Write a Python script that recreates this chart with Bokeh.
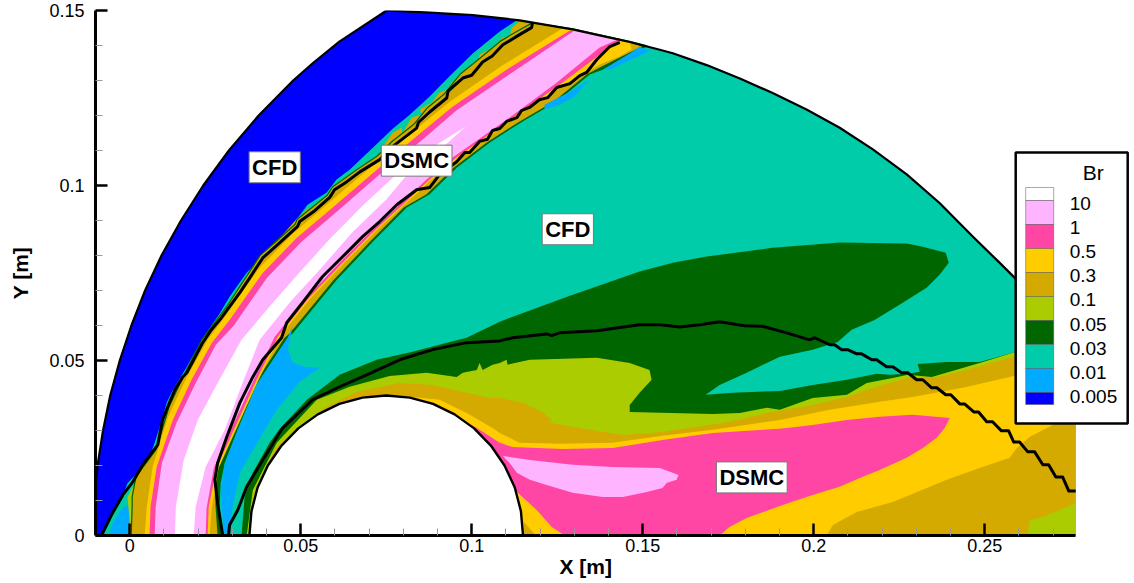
from bokeh.plotting import figure
from bokeh.models import FixedTicker, Range1d, Title
from bokeh.core.properties import value
from bokeh.embed import file_html
from bokeh.resources import INLINE

# ---- colours of contour levels ----
LEVEL_LABELS = ["10", "1", "0.5", "0.3", "0.1", "0.05", "0.03", "0.01", "0.005"]
WHITE, LPINK, PINK, YEL, GOLD, OLIVE, DKG, TEAL, LB, BLUE = (
    "#FFFFFF", "#FFB4FF", "#FF46A5", "#FFCC00", "#D4AA00",
    "#AACC00", "#006600", "#00CCAA", "#00AAFF", "#0000FF")

# ---- region outlines, (x, y) in mm ----
LEFT_ARC = [(-10,0),(-10.1,13.0),(-9.4,20),(-7.8,30),(-5.7,40),(-2.9,50),(0.5,60),(4.5,70),(9.3,80),(15.0,90),
            (21.5,100),(29.0,110),(37.7,120),(47.8,130),(53.6,135),(61.3,141.1)]
ARC_TOP = [(75.1,150),(87.7,149.4),(100.3,148.7),(114.0,147.2)]
ARC_MID = [(129.5,144.6),(137.4,142.9),(146.2,141.0)]
ARC_TAIL = [(155.0,138.8),(158.8,137.8),(168.7,134.4),(178.4,130.6),(188.0,126.4),(197.9,121.7),(207.6,116.5),(217.3,110.3),
            (227.2,103.2),(236.8,95.0),(246.5,85.4),(254.4,77.9),(258.8,73.6),(276.6,54.5)]
UP_TEAL = [(-7.9,0),(-5.3,5.9),(-2.0,11.6),(-0.6,15.0),(2.3,17.9),(5.8,22.5),(7.3,26.5),(9.4,33.0),(10.8,37.9),
           (12.3,41.0),(16.7,48.2),(21.1,55.9),(26.3,63.4),(29.2,68.2),(34.2,75.1),(38.9,79.7),(41.8,83.1),(47.7,88.8),
           (52.0,94.5),(57.6,98.0),(60.5,101.7),(64.3,104.5),(71.1,110.8),(76.9,116.2),(81.9,120.2),(87.7,125.4),(93.6,131.3),
           (100.3,137.7),(108.2,144.0),(113.2,147.2)]
FAN_BLUE = [(-5.8,0),(-5.3,3.0),(-3.5,5.9),(-2.0,7.9),(-0.6,8.7),(0,6.4),(0,0)]
FAN_OLIVE = [(0.3,0),(-0.3,7.3),(-0.6,11.0),(1.5,15.0),(3.5,18.7),(6.7,23.0),(7.9,24.5),(2.0,16.7),(0.9,11),(0.9,8.2),(0.6,0)]
JAG_GOLD = [(74.0,111.1),(76.9,115.1),(79.5,116.5),(79.8,115.1),(82.5,119.4),(85.4,120.3),(84.8,121.7),(88.3,123.7),
            (90.6,126.6),(92.7,127.4),(94.2,129.4),(97.4,131.1),(98.0,133.1),(101.8,135.4),(102.3,137.4),(106.1,139.4),
            (109.1,142.3),(111.1,142.6),(111.7,145.1),(114.0,146.9),(116.4,146.6),(117.8,146.0),(114.0,143.1),
            (109.1,140.2),(103.2,135.3),(97.4,130.7),(92.7,125.0),(87.7,121.0),(83.9,116.4),(77.5,111.6)]
GOLD_SPECKS = [(38.9,80.5),(43.9,85.0),(49.1,90.8),(52.6,93.7),(52.0,92.0),(49.1,88.5),(43.9,84.2),(40.0,80.5)]
GOLD_UP = [(0.6,0),(0.9,8.2),(0.9,11.0),(2.0,16.7),(7.9,24.5),(11.7,36.8),(16.1,45.9),(21.3,55.9),(28.7,65.6),
           (34.5,74.2),(38.3,79.9),(43.3,84.2),(48.5,88.8),(49.1,90.2),(57.9,97.1),(59.4,99.4),(66.7,104.5),(72.5,108.3),(76.9,112.5),
           (83.3,117.4),(87.1,122.0),(92.1,126.0),(96.8,131.7),(102.6,136.3),(108.5,141.1),(113.5,144.0),(117.8,146.3)]
GOLD_LOW = [(25.7,0),(25.1,8.2),(24.9,15.9),(26.3,20.7),(30.7,30.2),(36.3,43.1),(45.3,56.5),(46.8,57.8),(59.6,73.0),(70.2,83.9),
            (80.1,93.7),(86.8,97.5),(94.7,105.1),(104.4,112.3),(114.0,118.3),(124.0,124.0),(133.6,131.7),(137.4,133.7),
            (146.2,138.0),(149.7,139.7)]
GREEN_EDGE = [(26.9,0),(26.3,8.2),(26.6,15.0),(27.8,20.7),(31.6,30.2),(37.1,43.1),(46.2,56.5),(47.7,57.8),(60.5,73.0),(71.1,83.9),
              (81.0,93.7),(87.7,97.5),(95.6,105.1),(105.3,112.3),(114.9,118.3),(124.9,124.0),(134.5,131.7),(138.3,133.1),
              (147.1,137.4),(151.2,139.7)]
YEL_UP = [(4.4,0),(5.0,8.2),(6.7,19.6),(11.1,33.6),(16.7,45.3),(22.8,55.9),(28.1,62.8),(37.7,76.2),(47.7,86.2),(57.3,94.3),
          (71.1,105.7),(83.6,116.0),(93.3,123.7),(109.1,134.4),(126.6,144.9)]
YEL_LOW = [(23.4,0),(24.0,8.2),(26.0,19.3),(31.3,30.7),(37.7,44.5),(43.9,56.8),(52.6,67.4),(62.9,78.0),(72.5,87.4),(80.4,94.5),
           (88.3,101.7),(96.5,108.0),(112.0,118.8),(126.6,128.3),(137.4,134.6),(143.3,136.9),(146.8,138.9),(146.2,141.0)]
PINK_UP = [(5.8,0),(6.1,8.2),(7.9,19.6),(12.6,33.0),(18.1,44.5),(24.0,55.0),(29.2,61.6),(38.9,75.0),(48.8,85.0),(58.5,93.0),
           (72.2,104.4),(84.8,114.8),(94.4,122.5),(110.2,133.1),(128.7,144.3)]
PINK_LOW = [(22.8,0),(23.1,8.2),(25.4,19.3),(30.7,30.7),(37.1,44.5),(43.3,56.8),(52.0,67.4),(62.3,78.0),(71.9,87.4),(79.8,94.5),
            (87.7,101.7),(95.6,108.0),(111.1,118.8),(125.7,128.8),(138.3,138.0),(143.3,141.5)]
LP_UP = [(7.3,0),(7.6,8.2),(9.4,20.7),(13.7,32.2),(19.3,43.6),(25.2,54.5),(30.4,59.9),(40.1,73.6),(50.0,83.7),(59.6,91.7),
         (73.4,103.4),(86.0,113.4),(95.6,121.5),(111.4,132.0),(130.1,144.3)]
LP_LOW = [(22.2,0),(22.5,7.9),(24.6,19.3),(29.8,30.7),(36.3,44.5),(42.4,56.8),(51.2,67.4),(61.4,78.0),(71.1,87.4),(78.9,94.5),
          (86.8,101.7),(94.4,108.0),(110.2,118.8),(124.9,129.4),(137.4,139.4),(142.7,141.7)]
WHITE_BAND = [(13.2,0),(13.5,8.2),(15.8,21.6),(19.9,33.0),(25.7,43.6),(32.7,55.9),(40.9,65.4),(49.7,75.2),(58.5,84.7),(68.1,94.2),
              (78.1,103.3),(87.7,110.4),(98.2,116.8),(92.1,111.4),(81.3,103.3),(75.1,96.1),(65.2,86.7),(55.6,76.0),(46.8,66.6),
              (38.0,55.9),(33.0,43.6),(27.8,30.2),(22.2,19.6),(19.3,8.2),(18.7,0)]
LB_PATCH = [(27.5,0),(26.6,13.0),(27.8,20.7),(31.6,30.2),(37.1,43.1),(46.2,56.5),(47.7,60.0),(46.2,53.1),(47.7,49.3),(51.2,48.2),
            (55.6,47.9),(49.7,43.9),(43.0,35.9),(39.5,30.2),(32.2,17.9),(30.1,8.2),(29.2,0)]
LB_TIP = [(140.4,133.1),(152.1,138.4),(149.1,139.7),(146.2,137.7),(138.3,133.1)]
LB_SPOTS = [(121.3,121.7),(125.7,123.1),(130.1,125.4),(134.5,130.3),(128.7,126.8),(121.3,123.1)]
WAKE_GREEN = [(32.7,0),(33.6,11.0),(36.0,17.9),(40.9,26.5),(43.9,30.5),(51.8,38.8),(61.4,45.9),(72.2,50.2),(82.7,52.5),(93.6,55.3),
              (98.5,56.5),(104.4,59.3),(108.2,61.1),(128.7,68.5),(149.1,75.4),(158.8,77.9),(168.7,79.7),(188.0,82.2),(207.6,83.7),
              (227.2,83.4),(231.9,82.5),(238.6,80.8),(239.5,77.9),(236.8,74.5),(233.0,70.8),(225.1,65.9),(217.8,61.6),
              (211.1,58.8),(207.0,55.3),(199.7,53.1),(190.1,51.1),(180.4,46.5),(172.5,43.0),(168.4,40.2),(176.3,40.8),
              (190.1,41.3),(199.7,43.0),(209.7,44.5),(218.4,46.2),(222.2,45.9),(227.5,46.2),(231.0,46.8),(230.4,49.0),
              (238.9,49.6),(248.5,49.6),(258.2,52.2),(276.6,58.2),(276.6,0)]
WAKE_OLIVE = [(34.2,0),(36.0,13.0),(43.0,26.5),(46.8,30.5),(54.7,38.8),(64.3,42.5),(76.0,45.6),(86.8,46.5),(95.6,45.3),(97.4,46.5),
              (101.5,47.3),(102.3,49.3),(103.2,47.3),(106.1,48.8),(108.2,49.3),(110.2,50.2),(110.5,48.8),(117.0,50.2),(136.6,50.8),
              (146.2,49.3),(152.0,47.3),(152.6,44.5),(149.1,40.8),(146.2,37.3),(146.2,35.3),(170.5,34.7),(178.4,35.0),(186.3,36.5),
              (190.1,35.9),(199.7,39.3),(209.7,40.2),(215.5,43.6),(223.1,45.0),(227.5,45.9),(234.5,45.3),(248.5,49.3),(258.2,52.2),
              (276.6,57.6),(276.6,0)]
WAKE_GOLD = [(35.1,0),(36.6,13.0),(42.4,24.5),(48.8,30.5),(57.6,36.8),(66.4,41.0),(78.9,43.6),(88.6,43.0),(98.5,40.8),(105.3,39.3),
             (108.2,39.3),(114.9,37.9),(120.5,35.3),(123.4,33.0),(122.8,32.2),(131.6,30.7),(144.2,28.7),(152.9,29.3),(165.8,31.0),
             (175.4,32.5),(186.3,35.0),(199.7,37.3),(209.7,39.6),(217.3,42.2),(227.5,45.0),(236.0,45.3),(242.7,46.8),
             (258.2,51.0),(276.6,55.9),(276.6,0)]
WAKE_YEL = [(78.9,39.9),(90.6,38.8),(98.5,35.0),(106.1,30.7),(108.2,29.3),(114.0,26.5),(126.6,26.2),(141.2,26.5),(155.8,28.5),(170.5,30.2),
            (190.1,33.0),(204.7,35.9),(219.3,38.2),(228.9,39.6),(243.6,42.2),(257.3,45.3),(276.6,50.2),(276.6,0),(115.2,0)]
WAKE_PINK = [(92.7,35.6),(101.5,30.7),(108.2,26.5),(111.9,25.3),(126.6,24.7),(141.2,25.0),(155.8,27.3),(170.5,29.3),
             (190.1,30.5),(199.7,31.6),(209.7,33.0),(219.3,33.9),(228.9,34.5),(239.8,33.6),(238.3,30.7),(236.0,27.9),
             (231.9,25.0),(227.2,22.2),(219.3,18.7),(213.5,16.4),(207.6,13.9),(199.7,11.6),(190.1,8.4),(180.4,5.0),
             (175.4,2.4),(172.5,0),(127.2,0),(123.4,2.4),(119.0,7.3),(113.5,12.2)]
WAKE_LP = [(109.1,22.7),(117.0,21.6),(129.5,20.2),(141.2,19.6),(155.0,19.3),(160.5,17.3),(159.9,15.9),(157.0,15.0),
           (155.8,13.6),(151.2,12.4),(144.2,11.0),(138.3,11.0),(129.5,12.2),(121.9,14.4),(117.0,15.9),(113.2,17.9),(111.1,20.7)]
CORNER_GOLD = [(115.2,3.9),(118.4,0.4),(118.7,0),(114.9,0)]
FAR_GOLD = [(203.8,0),(205.6,3.0),(212.6,6.7),(223.1,9.6),(238.9,15.9),(248.5,19.3),(257.3,22.2),(259.4,25.0),(263.2,28.2),
            (269.9,31.6),(276.6,34.5),(276.6,0)]
FAR_OLIVE = [(262.3,0),(263.2,4.4),(267.0,5.3),(271.9,7.3),(276.6,9.3),(276.6,0)]
FAR_OLIVE2 = [(256.7,0),(259.7,1.0),(260.8,0)]
CYLINDER = [(115,0),(114.4,6.9),(112.6,13.7),(109.6,20),(105.6,25.7),(100.7,30.6),(95,34.6),(88.7,37.6),(81.9,39.4),(75,40),
            (68.1,39.4),(61.3,37.6),(55,34.6),(49.3,30.6),(44.4,25.7),(40.4,20),(37.4,13.7),(35.6,6.9),(35,0)]
DSMC_LEFT = [(-8.2,0),(-7.9,0.7),(-5.3,5.9),(-2.0,11.6),(0.9,15.3),(3.8,20.2),(8.2,25.9),(9.6,33.0),(11.1,36.7),(13.2,41.6),
             (15.5,45.3),(16.7,46.5),(21.3,55.0),(23.9,58.8),(26.9,62.3),(29.2,65.4),(32.2,69.4),(35.1,73.6),(38.9,79.3),(43.9,83.7),
             (49.1,88.3),(49.7,89.7),(54.1,92.8),(58.5,96.6),(59.9,98.8),(63.5,101.1),(67.3,103.9),(73.1,107.4),(77.5,111.6),
             (83.9,116.4),(84.4,118.0),(87.7,121.0),(92.7,125.0),(93.1,127.0),(97.4,130.7),(100.0,131.5),(103.2,135.3),
             (106.0,137.0),(109.1,140.2),(114.0,143.1),(117.5,145.1),(117.8,146.5)]
DSMC_RIGHT = [(27.2,0),(25.7,9.3),(24.9,15.9),(25.7,20.7),(28.4,28.2),(32.2,37.9),(36.0,45.3),(38.9,50.2),(44.4,56.5),(45.9,60.8),
              (51.2,67.4),(56.4,74.0),(62.3,79.7),(68.1,85.4),(73.1,89.7),(78.1,94.5),(83.9,98.8),(87.7,99.4),(90.6,103.1),(95.6,106.8),
              (98.0,109.4),(99.4,109.4),(102.3,112.6),(104.6,113.2),(106.1,115.7),(108.2,116.3),(110.2,118.3),(113.2,119.4),(114.6,121.4),
              (116.9,122.3),(119.8,124.5),(122.2,125.1),(124.9,128.0),(128.7,129.1),(131.6,131.4),(133.6,132.3),(136.6,136.0),
              (140.4,139.7),(143.3,140.9)]
DSMC_BODY = [(28.9,0),(29.2,3.0),(31.6,7.3),(34.2,13.9),(38.9,21.6),(44.7,30.7),(53.5,38.8),(61.4,42.5),(69.3,45.9),(78.9,50.2),
             (88.6,53.1),(98.5,55.1),(108.2,55.6),(112.0,56.5),(121.9,57.6),(123.4,57.1),(125.7,57.9),(136.6,58.5),(149.1,60.2),(155.0,60.2),
             (160.8,59.6),(166.7,60.2),(172.5,61.1),(179.8,59.9),(185.0,59.8),(192.1,57.9),(198.8,55.9),(200.3,56.5),(204.7,54.5),
             (206.1,54.5),(208.2,53.1),(209.9,53.1),(212.6,51.9),(214.0,51.9),(217.0,50.2),(218.4,50.2),(221.3,48.2),(223.1,48.2),
             (225.7,46.5),(227.5,46.5),(230.1,44.5),(231.9,44.5),(234.5,42.2),(236.0,42.2),(238.6,40.2),(240.1,40.2),(242.7,37.6),
             (244.1,37.6),(246.8,35.3),(248.2,35.3),(250.6,32.5),(252.3,32.5),(254.9,29.9),(257.0,29.9),(258.5,26.7),(260.2,26.7),
             (262.6,23.9),(264.6,23.9),(267.0,20.2),(268.7,20.2),(270.8,16.7),(272.8,16.7),(274.6,12.7),(276.6,12.7)]

ZONE_NAMES = ["CFD", "DSMC", "CFD", "DSMC"]
ZONE_X = [42.4, 83.9, 128.1, 181.9]
ZONE_Y = [105.2, 107.1, 87.5, 16.6]

X_TICKS = [0, 0.05, 0.1, 0.15, 0.2, 0.25]
Y_TICKS = [0, 0.05, 0.1, 0.15]
X_MINOR = [-0.01, 0.01, 0.02, 0.03, 0.04, 0.06, 0.07, 0.08, 0.09, 0.11, 0.12, 0.13, 0.14, 0.16, 0.17, 0.18, 0.19,
           0.21, 0.22, 0.23, 0.24, 0.26, 0.27]
Y_MINOR = [0.01, 0.02, 0.03, 0.04, 0.06, 0.07, 0.08, 0.09, 0.11, 0.12, 0.13, 0.14]

# ---- figure: frame runs past the axis end so the key can sit in it ----
W, H = 1132, 582
F_LEFT, F_TOP, F_BOTTOM = 95, 10, 535
SX = 3420.0
SY = (F_BOTTOM - F_TOP) / 0.15
x0 = -0.01
x1 = x0 + (W - F_LEFT) / SX
p = figure(width=W, height=H, output_backend="svg", toolbar_location=None,
           x_range=Range1d(x0, x1), y_range=Range1d(0, 0.15),
           min_border_left=F_LEFT, min_border_top=F_TOP, min_border_right=0,
           min_border_bottom=H - F_BOTTOM)
p.grid.visible = False
p.outline_line_color = None
p.background_fill_color = "white"

def xs(pts): return [a / 1000 for a, _ in pts]
def ys(pts): return [b / 1000 for _, b in pts]
def fill(pts, color, stroke=None, sw=0):
    p.patch(xs(pts), ys(pts), fill_color=color, line_color=stroke, line_width=sw)

END = [(276.6, 0)]
fill(LEFT_ARC + ARC_TOP + ARC_MID + ARC_TAIL + END, BLUE)
fill(UP_TEAL + ARC_MID + ARC_TAIL + END, TEAL)
fill(FAN_BLUE, LB)
fill(FAN_OLIVE, OLIVE)
fill(JAG_GOLD, GOLD)
fill(GOLD_SPECKS, GOLD)
fill(GOLD_UP + ARC_MID + GREEN_EDGE[::-1], DKG, DKG, 2.5)
fill(GOLD_UP + ARC_MID + GOLD_LOW[::-1], GOLD)
fill(YEL_UP + ARC_MID[:2] + YEL_LOW[::-1], YEL)
fill(PINK_UP + ARC_MID[1:2] + PINK_LOW[::-1], PINK)
fill(LP_UP + ARC_MID[1:2] + LP_LOW[::-1], LPINK)
fill(WHITE_BAND, WHITE)
fill(GREEN_EDGE + ARC_TAIL + END, TEAL)
fill(LB_PATCH, LB)
fill(LB_TIP, LB)
fill(LB_SPOTS, LB)
fill(WAKE_GREEN, DKG)
fill(WAKE_OLIVE, OLIVE)
fill(WAKE_GOLD, GOLD)
fill(WAKE_YEL, YEL)
fill(WAKE_PINK, PINK)
fill(WAKE_LP, LPINK)
fill(CORNER_GOLD, GOLD)
fill(FAR_GOLD, GOLD)
fill(FAR_OLIVE, OLIVE)
fill(FAR_OLIVE2, OLIVE)
fill(CYLINDER, WHITE)

for line, lw in ((DSMC_LEFT, 3), (DSMC_RIGHT, 3), (DSMC_BODY, 3), (LEFT_ARC[1:] + ARC_TOP[:1], 2.2),
                 (ARC_TOP + ARC_MID + ARC_TAIL, 2.2), (CYLINDER, 2.4)):
    p.line(xs(line), ys(line), line_color="black", line_width=lw, line_join="round")

p.text([v / 1000 for v in ZONE_X], [v / 1000 for v in ZONE_Y], text=ZONE_NAMES,
       text_font=value("Liberation Sans"), text_font_style="bold", text_font_size=value("22px"),
       text_align="center", text_baseline="middle", text_color="black",
       background_fill_color="white", border_line_color="#777777", border_line_width=1, padding=3)

# ---- axes ----
for ax, ticks, minors in ((p.xaxis[0], X_TICKS, X_MINOR), (p.yaxis[0], Y_TICKS, Y_MINOR)):
    ax.ticker = FixedTicker(ticks=ticks, minor_ticks=minors)
    ax.major_label_overrides = {t: ("%g" % t) for t in ticks}
    ax.major_label_text_font = "Liberation Sans"
    ax.major_label_text_font_size = "18px"
    ax.major_label_text_color = "black"
    ax.axis_line_width = 3
    ax.axis_line_color = "black"
    ax.major_tick_in = 12
    ax.major_tick_out = 0
    ax.major_tick_line_width = 2.5
    ax.major_tick_line_color = "black"
    ax.minor_tick_in = 7
    ax.minor_tick_out = 0
    ax.minor_tick_line_width = 1
    ax.minor_tick_line_color = "#999999"
p.xaxis[0].bounds = (x0, 0.2766)
p.xaxis[0].major_label_standoff = 3
p.yaxis[0].major_label_standoff = 11
p.yaxis[0].axis_label = "Y [m]"
p.yaxis[0].axis_label_text_color = "black"
p.yaxis[0].axis_label_text_font = "Liberation Sans"
p.yaxis[0].axis_label_text_font_style = "bold"
p.yaxis[0].axis_label_text_font_size = "21px"
p.yaxis[0].axis_label_standoff = 14
p.add_layout(Title(text="X [m]", align="left", offset=464, standoff=-3, text_color="black",
                   text_font="Liberation Sans", text_font_style="bold", text_font_size="21px"), "below")

def lx(px): return (px - 130) / SX
def ly(py): return (536 - py) / SY

# ---- key ----
p.quad(left=[lx(1016)], right=[lx(1128)], top=[ly(153)], bottom=[ly(424)],
       fill_color="white", line_color="black", line_width=2.5)
key_cols = [WHITE, LPINK, PINK, YEL, GOLD, OLIVE, DKG, TEAL, LB, BLUE]
tops = [188] + [201 + 24 * i for i in range(9)]
bots = [201 + 24 * i for i in range(9)] + [405]
p.quad(left=[lx(1026)] * 10, right=[lx(1054)] * 10, top=[ly(t) for t in tops], bottom=[ly(b) for b in bots],
       fill_color=key_cols, line_color="#55555580", line_width=1)
p.text([lx(1070)] * 9, [ly(204 + 24.1 * i) for i in range(9)], text=LEVEL_LABELS,
       text_font=value("Liberation Sans"), text_font_size=value("19px"),
       text_align="left", text_baseline="middle", text_color="black")
p.text([lx(1083)], [ly(173)], text=["Br"], text_font=value("Liberation Sans"), text_font_size=value("21px"),
       text_align="left", text_baseline="middle", text_color="black")

open("out.html", "w").write(file_html(p, INLINE))
